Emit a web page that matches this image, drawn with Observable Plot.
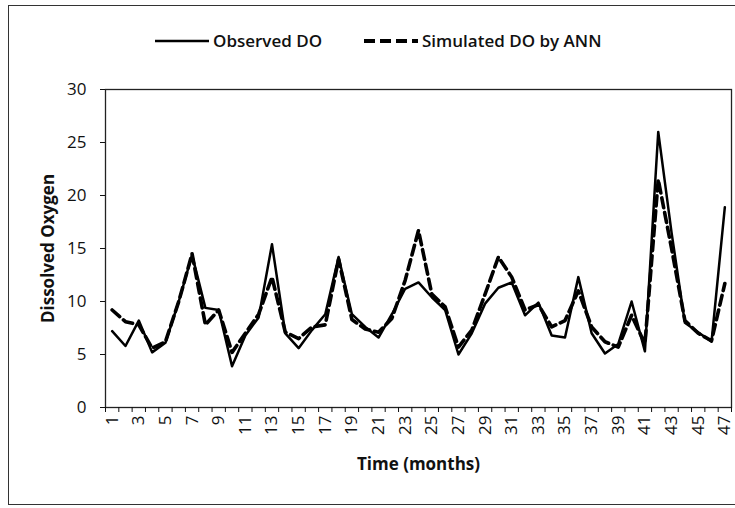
<!DOCTYPE html>
<html>
<head>
<meta charset="utf-8">
<script src="https://cdn.jsdelivr.net/npm/d3@7"></script>
<script src="https://cdn.jsdelivr.net/npm/@observablehq/plot@0.6"></script>
<style>
  html, body { margin: 0; padding: 0; background: #fff; overflow: hidden; }
  #wrap { position: relative; width: 735px; height: 508px; overflow: hidden; font-family: "Open Sans", sans-serif; }
  #border { position: absolute; left: 8px; top: 5px; width: 760px; height: 500px; box-sizing: border-box; border: 1.5px solid #333; pointer-events: none; }
  #legend { position: absolute; left: 0; top: 0; width: 735px; height: 70px; }
  .item { position: absolute; top: 29px; display: flex; align-items: center; font-weight: 600; font-size: 17px; color: #111; white-space: nowrap; }
  .item svg { margin-right: 4px; }
  #plot { position: absolute; left: 0; top: 70px; }
</style>
</head>
<body>
<div id="wrap">
  <div id="legend">
    <div class="item" style="left:155px"><svg width="54" height="10"><line x1="0" y1="5" x2="54" y2="5" stroke="#000" stroke-width="2.5"/></svg>Observed DO</div>
    <div class="item" style="left:364px"><svg width="54" height="10"><line x1="0" y1="5" x2="54" y2="5" stroke="#000" stroke-width="4" stroke-dasharray="11,5"/></svg>Simulated DO by ANN</div>
  </div>
  <div id="plot"></div>
  <div id="border"></div>
</div>
<script>
const months = [1,2,3,4,5,6,7,8,9,10,11,12,13,14,15,16,17,18,19,20,21,22,23,24,25,26,27,28,29,30,31,32,33,34,35,36,37,38,39,40,41,42,43,44,45,46,47];
const observed = [7.2,5.8,8.2,5.2,6.1,10.0,14.4,9.4,9.2,3.9,6.8,8.5,15.4,7.0,5.6,7.3,8.8,14.2,8.8,7.6,6.6,8.8,11.2,11.8,10.4,9.2,5.0,7.0,9.8,11.3,11.8,8.7,9.9,6.8,6.6,12.3,7.0,5.1,6.0,10.0,5.3,26.0,16.5,8.0,7.1,6.2,18.9];
const simulated = [9.2,8.1,7.8,5.6,6.2,10.0,14.5,7.8,9.2,5.2,7.0,8.8,12.3,7.1,6.5,7.6,7.8,14.0,8.3,7.4,7.1,8.4,12.0,16.7,10.7,9.5,5.7,7.3,10.7,14.2,12.3,9.2,9.7,7.6,8.2,11.0,7.6,6.2,5.7,8.7,6.0,21.5,15.0,8.2,7.0,6.3,11.7];
const xTickLabels = [1,3,5,7,9,11,13,15,17,19,21,23,25,27,29,31,33,35,37,39,41,43,45,47];
const yTicks = [0,5,10,15,20,25,30];
const xTitle = "Time (months)";
const yTitle = "Dissolved Oxygen";

const obsData = months.map((m, i) => ({month: m, value: observed[i]}));
const simData = months.map((m, i) => ({month: m, value: simulated[i]}));
const boundaries = months.map(m => m - 0.5).concat([months[months.length - 1] + 0.5]);

const chart = Plot.plot({
  width: 735,
  height: 438,
  marginLeft: 105,
  marginRight: 4,
  marginTop: 19,
  marginBottom: 101,
  style: {fontFamily: "Open Sans, sans-serif", fontSize: "17px", color: "#111", background: "transparent", overflow: "visible"},
  x: {domain: [0.5, 47.5]},
  y: {domain: [0, 30]},
  marks: [
    Plot.frame({stroke: "#222", strokeWidth: 1.3}),
    Plot.axisY({ticks: yTicks, tickSize: 5, tickPadding: 14, label: null, fontSize: 17}),
    Plot.axisX({ticks: boundaries, tickSize: 5, tickFormat: () => "", label: null}),
    Plot.axisX({ticks: xTickLabels, tickSize: 0, tickPadding: 8, tickRotate: -90, label: null, fontSize: 17}),
    Plot.lineY(obsData, {x: "month", y: "value", stroke: "#000", strokeWidth: 2.5}),
    Plot.lineY(simData, {x: "month", y: "value", stroke: "#000", strokeWidth: 3.6, strokeDasharray: "10,5"}),
    Plot.text([xTitle], {frameAnchor: "bottom", textAnchor: "middle", dy: 62, fontWeight: 700, fontSize: 17}),
    Plot.text([yTitle], {frameAnchor: "left", textAnchor: "middle", dx: -57, rotate: -90, fontWeight: 700, fontSize: 17})
  ]
});
document.getElementById("plot").appendChild(chart);
</script>
</body>
</html>
